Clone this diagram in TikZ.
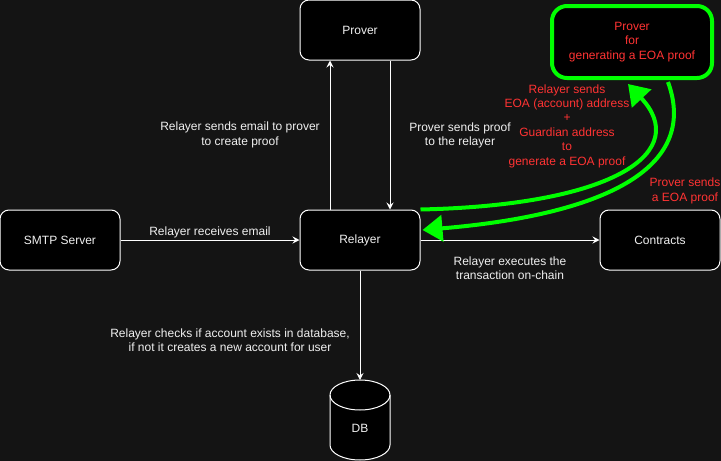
\documentclass[tikz,border=0pt]{standalone}
\usepackage{fontspec}
\setmainfont{Liberation Sans}
\usetikzlibrary{arrows.meta}
\definecolor{bg}{HTML}{141414}
\definecolor{neon}{HTML}{00FF00}
\definecolor{redtxt}{HTML}{FF3333}
\definecolor{txt}{HTML}{F0F0F0}
\begin{document}
\begin{tikzpicture}[x=1pt,y=-1pt,>={Stealth[length=7pt,width=7pt,inset=2.5pt]},
  font=\fontsize{12}{14.4}\selectfont, line join=round,
  box/.style={draw=white,line width=1pt,fill=black,rounded corners=9pt,minimum width=120pt,minimum height=60pt,text=txt,inner sep=0pt},
  lbl/.style={text=txt,align=center,inner sep=0pt},
  redlbl/.style={text=redtxt,align=center,inner sep=0pt},
  link/.style={draw=white,line width=1pt,->},
  bigarrow/.style={draw=neon,line width=4pt,-{Triangle[length=20pt,width=26pt]}}]
\fill[bg] (0,0) rectangle (721,461);
\useasboundingbox (0,0) rectangle (721,461);
% boxes
\node[box] (prover) at (360,30) {Prover};
\node[box] (relayer) at (360,240) {Relayer};
\node[box] (smtp) at (60,240) {SMTP Server};
\node[box] (contracts) at (660,240) {Contracts};
\node[draw=neon,line width=4pt,fill=black,rounded corners=15pt,minimum width=160pt,minimum height=72pt,
  text=redtxt,align=center,inner sep=0pt] (eoaprover) at (632,42) {Prover\\for\\generating a EOA proof};
% database
\fill[black,draw=white,line width=1pt] (330,395) -- (330,445) arc[start angle=180,end angle=360,x radius=30pt,y radius=15pt]
  -- (390,395) arc[start angle=0,end angle=180,x radius=30pt,y radius=15pt] -- cycle;
\draw[white,line width=1pt] (330,395) arc[start angle=180,end angle=360,x radius=30pt,y radius=15pt];
\node[lbl] (db) at (360,428) {DB};
\coordinate (dbtop) at (360,380);
% connectors
\draw[link] (smtp) -- node[lbl,above=2pt] (lblrecv) {Relayer receives email} (relayer);
\draw[link] ([xshift=-30pt]relayer.north) -- ([xshift=-30pt]prover.south);
\draw[link] ([xshift=30pt]prover.south) -- ([xshift=30pt]relayer.north);
\draw[link] (relayer) -- (contracts);
\draw[link] (relayer) -- (dbtop);
\node[lbl] (lblemail) at (240,135) {Relayer sends email to prover\\to create proof};
\node[lbl] (lblproof) at (460,135.5) {Prover sends proof\\to the relayer};
\node[lbl] (lblexec) at (510,268) {Relayer executes the\\transaction on-chain};
\node[lbl] (lbldb) at (230,340) {Relayer checks if account exists in database,\\if not it creates a new account for user};
% green arrows
\draw[bigarrow] (relayer.north east) .. controls (620,205) and (690,150) .. ([xshift=-4pt,yshift=-4pt]eoaprover.south);
\draw[bigarrow] ([xshift=36pt,yshift=-2pt]eoaprover.south) .. controls (700,170) and (600,215) .. ([xshift=2pt,yshift=10pt]relayer.east);
\node[redlbl] (lblsend) at (567,126) {Relayer sends\\EOA (account) address\\+\\Guardian address\\to\\generate a EOA proof};
\node[redlbl] (lbleoa) at (685,191) {Prover sends\\a EOA proof};
\end{tikzpicture}
\end{document}
